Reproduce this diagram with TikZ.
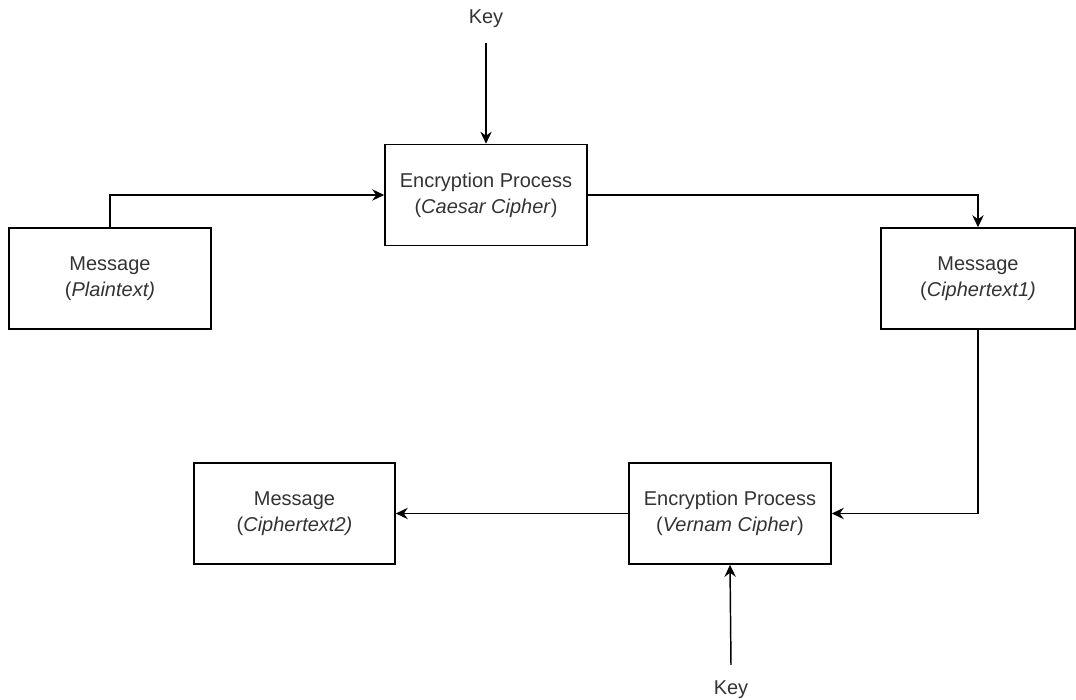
\documentclass[tikz,border=0pt]{standalone}
\usepackage{fontspec}
\setmainfont{Liberation Sans}
\usepackage{xcolor}
\usetikzlibrary{arrows.meta}

\tikzset{
  procbox/.style={draw,line width=1.2pt,minimum width=151.5pt,minimum height=75.75pt,
    align=center,text=black!80,font=\fontsize{15}{19.5}\selectfont,inner sep=0pt},
  flow/.style={line width=1.1pt,-{Stealth[length=9pt,width=8.5pt,inset=3pt]}},
  keylbl/.style={text=black!80,font=\fontsize{15}{18}\selectfont,inner sep=0pt}
}

\begin{document}
\begin{tikzpicture}[x=0.75pt,y=0.75pt]
\useasboundingbox (0,0) rectangle (1076,700);
% boxes
\node[procbox] (plain) at (110,421.5) {Message\\(\textit{Plaintext)}};
\node[procbox] (caesar) at (486,505) {Encryption Process\\(\textit{Caesar Cipher})};
\node[procbox,minimum width=145.5pt] (ctone) at (978,421.5) {Message\\(\textit{Ciphertext1)}};
\node[procbox,minimum width=150.75pt] (ctwo) at (294.5,186.5) {Message\\(\textit{Ciphertext2)}};
\node[procbox] (vernam) at (730,186.5) {Encryption Process\\(\textit{Vernam Cipher})};
% keys
\node[keylbl] (keytop) at (486,681) {Key};
\node[keylbl] (keybot) at (731,10) {Key};
\coordinate (ktop) at (486,657);
\coordinate (kbot) at (731,35);
% arrows
\draw[flow] (plain.north) |- (caesar.west);
\draw[flow] (caesar.east) -| (ctone.north);
\draw[flow] (ctone.south) |- (vernam.east);
\draw[flow] (vernam.west) -- (ctwo.east);
\draw[flow] (ktop) -- (caesar.north);
\draw[flow] (kbot) -- (vernam.south);
\end{tikzpicture}
\end{document}
